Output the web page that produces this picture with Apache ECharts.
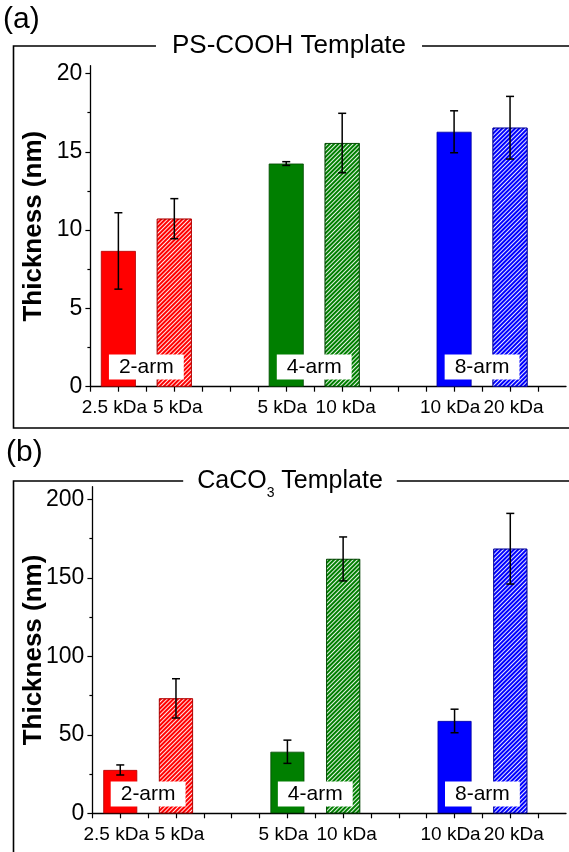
<!DOCTYPE html>
<html>
<head>
<meta charset="utf-8">
<script src="https://cdn.jsdelivr.net/npm/echarts@6/dist/echarts.min.js"></script>
<style>
html,body{margin:0;padding:0;background:#fff;}
#c{width:569px;height:852px;}
</style>
</head>
<body>
<div id="c"></div>
<script>
// ---- data ----
const xPositions = [1, 3, 7, 9, 13, 15];
const xLabels = ['2.5 kDa', '5 kDa', '5 kDa', '10 kDa', '10 kDa', '20 kDa'];
const psValues = [8.67, 10.73, 14.25, 15.56, 16.28, 16.54];
const psErrors = [2.44, 1.28, 0.12, 1.9, 1.34, 2.0];
const caValues = [27.6, 73.2, 39.2, 162, 58.8, 168.5];
const caErrors = [3.2, 12.5, 7.4, 14, 7.5, 22.5];
const armLabels = ['2-arm', '4-arm', '8-arm'];
const armPositions = [2, 8, 14];
const yTicksA = [0, 5, 10, 15, 20];
const yMinorA = [2.5, 7.5, 12.5, 17.5];
const yTicksB = [0, 50, 100, 150, 200];
const yMinorB = [25, 75, 125, 175];
const xTicks = [0, 1, 2, 3, 4, 5, 6, 7, 8, 9, 10, 11, 12, 13, 14, 15, 16];

// ---- styles / layout ----
const barColors = ['#ff0000', '#ff0000', '#007f00', '#007f00', '#0000ff', '#0000ff'];
const barBorders = ['#b00000', '#b00000', '#004800', '#004800', '#0000a0', '#0000a0'];
const barHatched = [false, true, false, true, false, true];
const armLabelYA = 1.26;
const armLabelYB = 12.3;
const FONT = 'Liberation Sans, Arial, sans-serif';

const chart = echarts.init(document.getElementById('c'), null, {renderer: 'canvas'});

function barData(values) {
  return values.map((v, i) => {
    const st = {color: barColors[i], borderColor: barBorders[i], borderWidth: 0.8};
    if (barHatched[i]) {
      st.decal = {
        symbol: 'rect', symbolSize: 1, color: 'rgba(255,255,255,0.9)',
        dashArrayX: [1, 0], dashArrayY: [1, 2], rotation: -Math.PI / 4
      };
    }
    return {value: [xPositions[i], v], itemStyle: st};
  });
}
function errData(values, errs) {
  return values.map((v, i) => [xPositions[i], v, errs[i]]);
}
function errRender(params, api) {
  const x = api.value(0), y = api.value(1), e = api.value(2);
  const t = api.coord([x, y + e]), b = api.coord([x, y - e]);
  const hw = 4;
  const st = {stroke: '#000', lineWidth: 1.5};
  return {type: 'group', children: [
    {type: 'line', shape: {x1: t[0], y1: t[1], x2: b[0], y2: b[1]}, style: st},
    {type: 'line', shape: {x1: t[0] - hw, y1: t[1], x2: t[0] + hw, y2: t[1]}, style: st},
    {type: 'line', shape: {x1: b[0] - hw, y1: b[1], x2: b[0] + hw, y2: b[1]}, style: st}
  ]};
}
function armData(y) {
  return armPositions.map((p, i) => [p, y, i]);
}
function armRender(params, api) {
  const c = api.coord([api.value(0), api.value(1)]);
  return {
    type: 'text', z2: 10,
    style: {
      text: armLabels[api.value(2)], x: c[0], y: c[1], align: 'center', verticalAlign: 'middle',
      fill: '#000', font: '21px ' + FONT, backgroundColor: '#fff', padding: [1, 10, 0, 10], lineHeight: 24
    }
  };
}
const xLabelValues = [0].concat(xPositions, [17]);
function xAxisCfg(gi) {
  return {
    type: 'value', gridIndex: gi, min: 0, max: 17,
    splitLine: {show: false},
    axisLine: {show: true, onZero: false, lineStyle: {color: '#000', width: 1.3}},
    axisTick: {show: true, length: 5, customValues: xTicks, lineStyle: {color: '#000', width: 1.2}},
    axisLabel: {
      customValues: xLabelValues, margin: 12, fontSize: 19, color: '#000', fontFamily: FONT,
      hideOverlap: false,
      formatter: v => {
        const k = xPositions.indexOf(v);
        if (k < 0) return '';
        return (k % 2 === 0 ? '{l|' : '{r|') + xLabels[k] + '}';
      },
      rich: {
        l: {fontSize: 19, color: '#000', fontFamily: FONT, padding: [0, 8, 0, 0]},
        r: {fontSize: 19, color: '#000', fontFamily: FONT, padding: [0, 0, 0, 7]}
      }
    }
  };
}
function yAxisCfg(gi, max, ticks, gap) {
  return {
    type: 'value', gridIndex: gi, min: 0, max: max,
    name: 'Thickness (nm)', nameLocation: 'middle', nameRotate: 90, nameGap: gap,
    nameMoveOverlap: false,
    nameTextStyle: {fontSize: 26, fontWeight: 'bold', color: '#000', fontFamily: FONT},
    splitLine: {show: false},
    axisLine: {show: true, onZero: false, lineStyle: {color: '#000', width: 1.3}},
    axisTick: {show: true, length: 5, customValues: ticks, lineStyle: {color: '#000', width: 1.2}},
    axisLabel: {customValues: ticks, margin: 8, fontSize: 23, color: '#000', fontFamily: FONT}
  };
}
function yMinorCfg(gi, max, ticks) {
  return {
    type: 'value', gridIndex: gi, min: 0, max: max, position: 'left',
    splitLine: {show: false},
    axisLine: {show: false},
    axisTick: {show: true, length: 3, customValues: ticks, lineStyle: {color: '#000', width: 1.2}},
    axisLabel: {show: false}
  };
}

const option = {
  backgroundColor: '#fff',
  animation: false,
  textStyle: {fontFamily: FONT},
  title: [
    {text: 'PS-COOH Template', left: 273, top: 31, textAlign: 'center', z: 10,
     backgroundColor: '#fff', padding: [0, 16],
     textStyle: {fontSize: 26, fontWeight: 'normal', color: '#000', lineHeight: 30, fontFamily: FONT}},
    {text: '{n|CaCO}{s|3}{n| Template}', left: 276, top: 466, textAlign: 'center', z: 10,
     backgroundColor: '#fff', padding: [0, 14],
     textStyle: {fontSize: 25, fontWeight: 'normal', color: '#000', lineHeight: 30, fontFamily: FONT,
       rich: {
         n: {fontSize: 25, lineHeight: 30, color: '#000', fontFamily: FONT},
         s: {fontSize: 14, lineHeight: 14, verticalAlign: 'bottom', color: '#000', fontFamily: FONT, padding: [0, 0, -4, 0]}
       }}}
  ],
  graphic: [
    {type: 'polyline', z: 0, shape: {points: [[590, 46], [13.5, 46], [13.5, 428], [590, 428]]},
     style: {stroke: '#000', lineWidth: 1.6, fill: null}},
    {type: 'polyline', z: 0, shape: {points: [[590, 481], [13.5, 481], [13.5, 900]]},
     style: {stroke: '#000', lineWidth: 1.6, fill: null}},
    {type: 'text', left: 3, top: 5, z: 10, style: {text: '(a)', fontSize: 30, fill: '#000', fontFamily: FONT}},
    {type: 'text', left: 6, top: 438, z: 10, style: {text: '(b)', fontSize: 30, fill: '#000', fontFamily: FONT}}
  ],
  grid: [
    {left: 90.4, top: 65.7, width: 502.7, height: 321, containLabel: false},
    {left: 92.4, top: 486.7, width: 494.7, height: 326.6, containLabel: false}
  ],
  xAxis: [xAxisCfg(0), xAxisCfg(1)],
  yAxis: [yAxisCfg(0, 20.5, yTicksA, 44), yMinorCfg(0, 20.5, yMinorA),
          yAxisCfg(1, 208, yTicksB, 46), yMinorCfg(1, 208, yMinorB)],
  series: [
    {type: 'bar', xAxisIndex: 0, yAxisIndex: 0, barWidth: 35, z: 2, data: barData(psValues)},
    {type: 'custom', xAxisIndex: 0, yAxisIndex: 0, z: 3, renderItem: errRender, data: errData(psValues, psErrors)},
    {type: 'custom', xAxisIndex: 0, yAxisIndex: 0, z: 5, renderItem: armRender, data: armData(armLabelYA)},
    {type: 'bar', xAxisIndex: 1, yAxisIndex: 2, barWidth: 34, z: 2, data: barData(caValues)},
    {type: 'custom', xAxisIndex: 1, yAxisIndex: 2, z: 3, renderItem: errRender, data: errData(caValues, caErrors)},
    {type: 'custom', xAxisIndex: 1, yAxisIndex: 2, z: 5, renderItem: armRender, data: armData(armLabelYB)}
  ]
};
chart.setOption(option);
</script>
</body>
</html>
